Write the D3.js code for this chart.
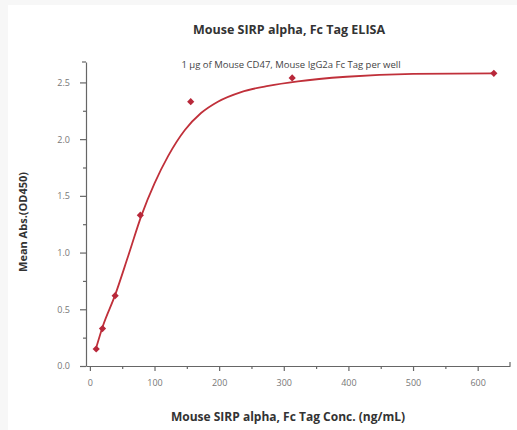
<!DOCTYPE html>
<html>
<head>
<meta charset="utf-8">
<script src="https://cdn.jsdelivr.net/npm/d3@7"></script>
<style>
  html, body { margin: 0; padding: 0; background: #f7f7f7; }
  svg { display: block; }
</style>
</head>
<body>
<svg id="chart" width="517" height="430"></svg>
<script>
// ---- data ----
const concentrations = [9.77, 19.5, 39.1, 78.1, 156, 313, 625];
const meanAbs = [0.15, 0.33, 0.62, 1.33, 2.33, 2.54, 2.58];
// fitted curve
const curveConc = [9.77, 20, 38.7, 59, 80, 100, 121, 147, 172, 198, 234, 276, 322, 397, 500, 625];
const curveAbs  = [0.16, 0.35, 0.62, 0.965, 1.33, 1.61, 1.85, 2.08, 2.23, 2.33, 2.415, 2.47, 2.51, 2.55, 2.575, 2.58];
const xTicks = [0, 100, 200, 300, 400, 500, 600];
const yTicks = [0.0, 0.5, 1.0, 1.5, 2.0, 2.5];
const title = "Mouse SIRP alpha, Fc Tag ELISA";
const subtitle = "1 μg of Mouse CD47, Mouse IgG2a Fc Tag per well";
const xLabel = "Mouse SIRP alpha, Fc Tag Conc. (ng/mL)";
const yLabel = "Mean Abs.(OD450)";

const svg = d3.select("#chart");
svg.append("rect").attr("x", 8).attr("y", 5).attr("width", 509).attr("height", 425).attr("fill", "#ffffff");

const x = d3.scaleLinear().domain([-6, 650]).range([86, 510]);
const y = d3.scaleLinear().domain([0, 2.68]).range([366, 62]);

const axisColor = "#666";
const font = "'Open Sans', 'DejaVu Sans', sans-serif";

// x axis
const xAxis = svg.append("g").attr("transform", `translate(0,${y(0)})`)
  .call(d3.axisBottom(x).tickValues(xTicks).tickFormat(d3.format("d")).tickSize(5).tickSizeOuter(0));
const xMinor = svg.append("g").attr("transform", `translate(0,${y(0)})`)
  .call(d3.axisBottom(x).tickValues([50,150,250,350,450,550]).tickFormat("").tickSize(3).tickSizeOuter(0));
xMinor.select(".domain").remove();
// y axis
const yAxis = svg.append("g").attr("transform", `translate(${x(-6)},0)`)
  .call(d3.axisLeft(y).tickValues(yTicks).tickFormat(d3.format(".1f")).tickSize(6).tickSizeOuter(0));
const yMinor = svg.append("g").attr("transform", `translate(${x(-6)},0)`)
  .call(d3.axisLeft(y).tickValues([0.25,0.75,1.25,1.75,2.25]).tickFormat("").tickSize(3).tickSizeOuter(0));
yMinor.select(".domain").remove();

[xAxis, yAxis, xMinor, yMinor].forEach(g => {
  g.selectAll("path.domain").attr("stroke", axisColor).attr("stroke-width", 1.2);
  g.selectAll(".tick line").attr("stroke", axisColor).attr("stroke-width", 1.2);
  g.selectAll(".tick text").attr("fill", "#777").attr("font-family", font).attr("font-size", 9);
});
xAxis.selectAll(".tick text").attr("y", 20).attr("dy", 0);
yAxis.selectAll(".tick text").attr("x", -16);

// end caps
svg.append("line").attr("x1", x(650)).attr("x2", x(650)).attr("y1", y(0)).attr("y2", y(0) - 4)
  .attr("stroke", axisColor).attr("stroke-width", 1.2);
svg.append("line").attr("x1", x(-6)).attr("x2", x(-6) - 4).attr("y1", y(2.68)).attr("y2", y(2.68))
  .attr("stroke", axisColor).attr("stroke-width", 1.2);

// curve
const line = d3.line().x((d, i) => x(curveConc[i])).y((d, i) => y(curveAbs[i])).curve(d3.curveMonotoneX);
svg.append("path").datum(curveConc).attr("d", line)
  .attr("fill", "none").attr("stroke", "#c0303a").attr("stroke-width", 1.8);

// markers (square diamonds)
svg.selectAll("path.pt").data(concentrations).join("path")
  .attr("class", "pt")
  .attr("d", d3.symbol(d3.symbolSquare, 26))
  .attr("transform", (d, i) => `translate(${x(d)},${y(meanAbs[i])}) rotate(45)`)
  .attr("fill", "#b8283a");

// titles
svg.append("text").attr("x", 289).attr("y", 34).attr("text-anchor", "middle")
  .attr("font-family", font).attr("font-weight", "bold").attr("font-size", 12.5).attr("fill", "#333").text(title);
svg.append("text").attr("x", 291).attr("y", 68).attr("text-anchor", "middle")
  .attr("font-family", font).attr("font-size", 9.5).attr("fill", "#444").text(subtitle);
svg.append("text").attr("x", 288).attr("y", 421).attr("text-anchor", "middle")
  .attr("font-family", font).attr("font-weight", "bold").attr("font-size", 12).attr("fill", "#333").text(xLabel);
svg.append("text").attr("transform", "translate(27,222) rotate(-90)").attr("text-anchor", "middle")
  .attr("font-family", font).attr("font-weight", "bold").attr("font-size", 11).attr("fill", "#333").text(yLabel);
</script>
</body>
</html>
